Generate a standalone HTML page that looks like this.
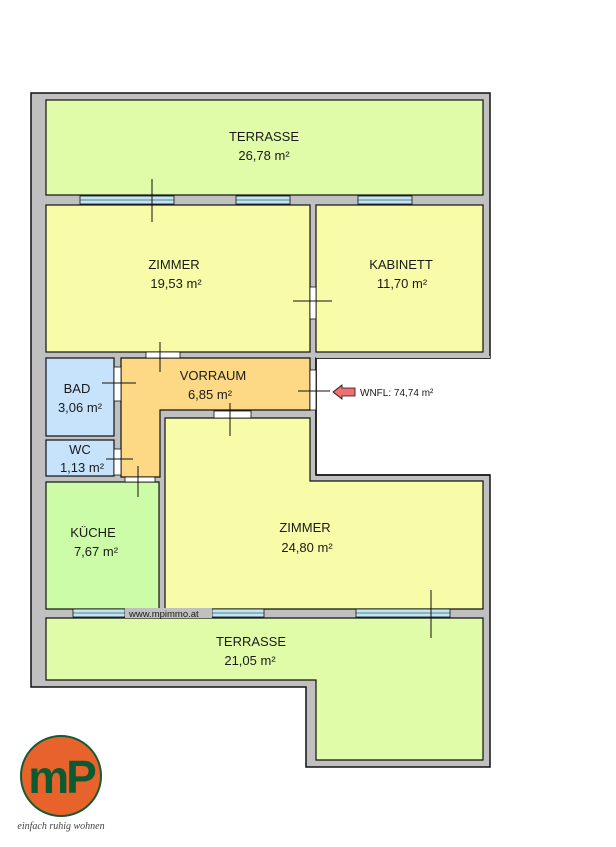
<!DOCTYPE html>
<html><head><meta charset="utf-8"><style>
html,body{margin:0;padding:0;background:#fff;width:616px;height:847px;overflow:hidden}
svg{display:block}
text{font-family:"Liberation Sans",sans-serif;fill:#1a1a1a}
</style></head><body>
<svg width="616" height="847" viewBox="0 0 616 847">
<!-- outer wall -->
<polygon points="31,93 490,93 490,358 316,358 316,475 490,475 490,767 306,767 306,687 31,687" fill="#c0c0c0" stroke="#111" stroke-width="1.5"/>
<!-- white notch region -->
<rect x="317" y="359" width="174" height="115" fill="#fff"/>
<polyline points="316,358 490,358" stroke="#111" stroke-width="1.5" fill="none"/>
<polyline points="316,475 490,475" stroke="#111" stroke-width="1.5" fill="none"/>
<polyline points="316,358 316,475" stroke="#111" stroke-width="1.5" fill="none"/>
<rect x="316" y="356" width="174" height="2" fill="#c0c0c0"/>
<g stroke="#111" stroke-width="1.2">
<rect x="46" y="100" width="437" height="95" fill="#e1fca8"/>
<rect x="46" y="205" width="264" height="147" fill="#f8fca8"/>
<rect x="316" y="205" width="167" height="147" fill="#f8fca8"/>
<rect x="46" y="358" width="68" height="78" fill="#c6e3fb"/>
<rect x="46" y="440" width="68" height="36" fill="#c6e3fb"/>
<polygon points="121,358 310,358 310,410 160,410 160,477 121,477" fill="#fdd985"/>
<polygon points="165,418 310,418 310,481 483,481 483,609 165,609" fill="#f8fca8"/>
<rect x="46" y="482" width="113" height="127" fill="#cdfca8"/>
<polygon points="46,618 483,618 483,760 316,760 316,680 46,680" fill="#e1fca8"/>
</g>
<!-- windows -->
<g fill="#bfe6f5" stroke="#111" stroke-width="0.8">
<rect x="80" y="196" width="94" height="8"/><rect x="236" y="196" width="54" height="8"/><rect x="358" y="196" width="54" height="8"/>
<rect x="73" y="609" width="52" height="8"/><rect x="212" y="609" width="52" height="8"/><rect x="356" y="609" width="94" height="8"/>
</g>
<g stroke="#111" stroke-width="0.6">
<line x1="80" y1="200" x2="174" y2="200"/><line x1="236" y1="200" x2="290" y2="200"/><line x1="358" y1="200" x2="412" y2="200"/>
<line x1="73" y1="613" x2="125" y2="613"/><line x1="212" y1="613" x2="264" y2="613"/><line x1="356" y1="613" x2="450" y2="613"/>
</g>
<!-- doors -->
<g fill="#fff" stroke="#111" stroke-width="0.8">
<rect x="146" y="352" width="34" height="6"/>
<rect x="310" y="287" width="6" height="32"/>
<rect x="114" y="367" width="7" height="34"/>
<rect x="114" y="449" width="7" height="26"/>
<rect x="125" y="477" width="30" height="5"/>
<rect x="214" y="411" width="37" height="7"/>
<rect x="310" y="370" width="6" height="40"/>
</g>
<rect x="125" y="608" width="87" height="10" fill="#c0c0c0"/>
<text x="129" y="617" font-size="9.5">www.mpimmo.at</text>
<!-- door crosses -->
<g stroke="#111" stroke-width="1">
<line x1="152" y1="179" x2="152" y2="222"/>
<line x1="293" y1="301" x2="332" y2="301"/>
<line x1="160" y1="342" x2="160" y2="372"/>
<line x1="102" y1="383" x2="136" y2="383"/>
<line x1="230" y1="403" x2="230" y2="436"/>
<line x1="298" y1="391" x2="330" y2="391"/>
<line x1="106" y1="459" x2="133" y2="459"/>
<line x1="138" y1="466" x2="138" y2="497"/>
<line x1="431" y1="590" x2="431" y2="638"/>
</g>
<!-- arrow -->
<polygon points="333,392 342,385 342,388 355,388 355,396 342,396 342,399" fill="#f07070" stroke="#111" stroke-width="0.8"/>
<text x="360" y="396" font-size="10">WNFL: 74,74 m²</text>
<!-- labels -->
<g font-size="13" text-anchor="middle">
<text x="264" y="141">TERRASSE</text><text x="264" y="160">26,78 m²</text>
<text x="174" y="269">ZIMMER</text><text x="176" y="288">19,53 m²</text>
<text x="401" y="269">KABINETT</text><text x="402" y="288">11,70 m²</text>
<text x="213" y="380">VORRAUM</text><text x="210" y="399">6,85 m²</text>
<text x="77" y="393">BAD</text><text x="80" y="412">3,06 m²</text>
<text x="80" y="454">WC</text><text x="82" y="472">1,13 m²</text>
<text x="93" y="537">KÜCHE</text><text x="96" y="556">7,67 m²</text>
<text x="305" y="532">ZIMMER</text><text x="307" y="552">24,80 m²</text>
<text x="251" y="646">TERRASSE</text><text x="250" y="665">21,05 m²</text>
</g>
<!-- logo -->
<circle cx="61" cy="776" r="40" fill="#e8622c" stroke="#145a32" stroke-width="2"/>
<text x="61" y="793" font-size="46" font-weight="bold" text-anchor="middle" style="fill:#0d5a30;letter-spacing:-3px">mP</text>
<text x="61" y="829" font-size="10" font-style="italic" text-anchor="middle" style="font-family:'Liberation Serif',serif;fill:#444">einfach ruhig wohnen</text>
</svg>
</body></html>
